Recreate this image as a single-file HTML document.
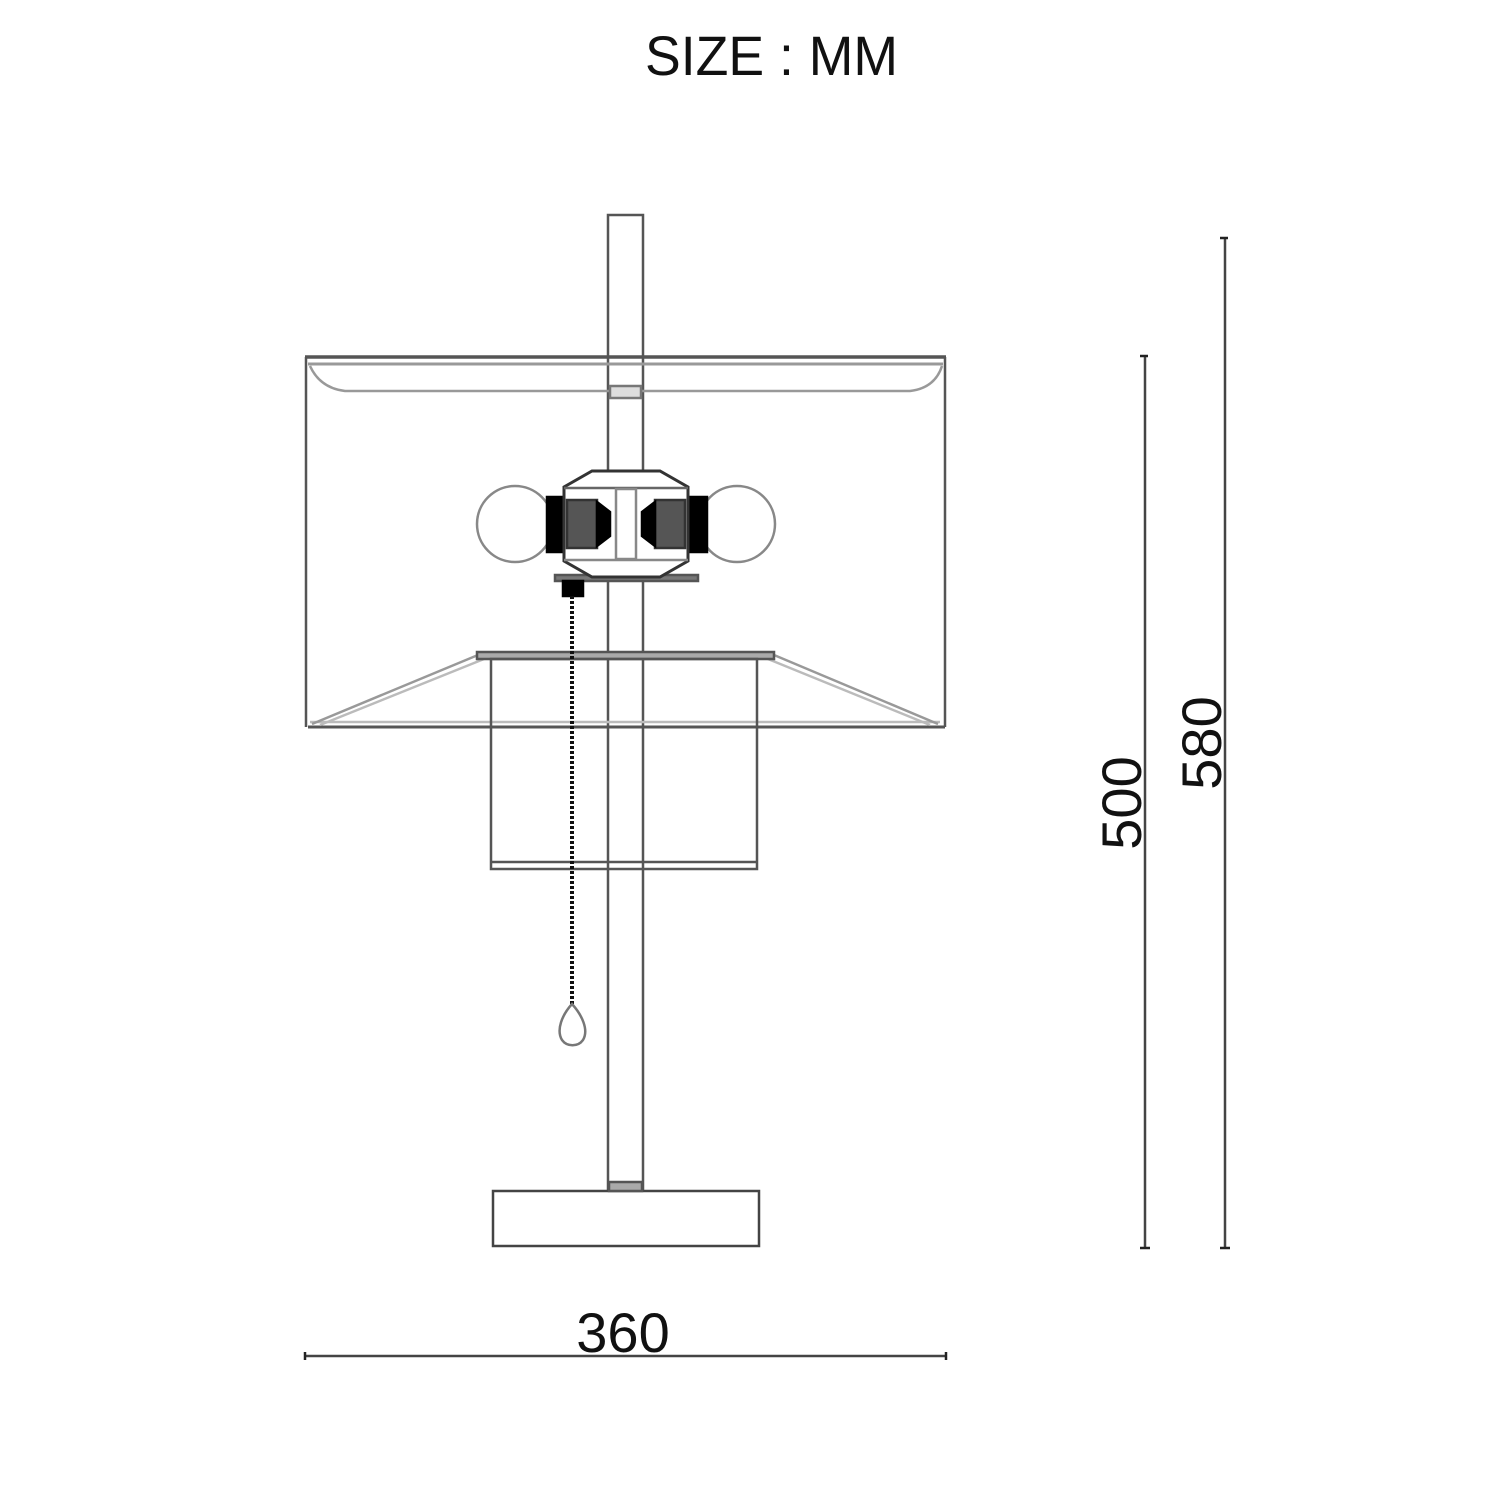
<!DOCTYPE html>
<html><head><style>body{margin:0;background:#fff}svg{display:block}</style></head>
<body>
<svg width="1500" height="1500" viewBox="0 0 1500 1500" xmlns="http://www.w3.org/2000/svg" font-family="Liberation Sans, sans-serif">
<text x="645" y="75" font-size="56" fill="#111" textLength="253" lengthAdjust="spacingAndGlyphs">SIZE : MM</text>
<g fill="none" stroke="#555" stroke-width="2.5">
<rect x="608" y="215" width="35" height="977" fill="#fff"/>
<line x1="306" y1="357" x2="306" y2="727"/>
<line x1="945" y1="357" x2="945" y2="727"/>
<line x1="305" y1="357" x2="946" y2="357" stroke-width="3.5"/>
<line x1="308" y1="364" x2="943" y2="364" stroke="#999" stroke-width="3"/>
<path d="M310 366 Q320 388 345 391 L910 391 Q935 388 942 366" stroke="#999"/>
<rect x="610" y="386" width="31" height="12" fill="#ddd" stroke="#777"/>
<line x1="308" y1="727" x2="945" y2="727" stroke-width="3"/>
<line x1="310" y1="722" x2="940" y2="722" stroke="#bbb"/>
<line x1="312" y1="724" x2="478" y2="655" stroke="#999"/>
<line x1="320" y1="725" x2="484" y2="659" stroke="#bbb"/>
<line x1="938" y1="724" x2="774" y2="655" stroke="#999"/>
<line x1="930" y1="725" x2="768" y2="659" stroke="#bbb"/>
<rect x="477" y="652" width="297" height="7" fill="#aaa" stroke="#555"/>
<rect x="491" y="659" width="266" height="210"/>
<line x1="491" y1="862" x2="757" y2="862"/>
<rect x="555" y="575" width="143" height="6" fill="#777" stroke="#555"/>
<rect x="563" y="581" width="20" height="15" fill="#000" stroke="#000"/>
<line x1="572" y1="596" x2="572" y2="1005" stroke="#111" stroke-width="4" stroke-dasharray="3 2"/>
<path d="M572 1004 C562 1015 556 1030 562 1040 C567 1047 578 1047 583 1040 C589 1030 582 1015 572 1004 Z" stroke="#777"/>
<circle cx="515" cy="524" r="38" fill="#fff" stroke="#888"/>
<circle cx="737" cy="524" r="38" fill="#fff" stroke="#888"/>
<rect x="547" y="497" width="20" height="55" fill="#000" stroke="#000"/>
<rect x="687" y="497" width="20" height="55" fill="#000" stroke="#000"/>
<path d="M592 471 L660 471 L688 487 L688 561 L660 577 L592 577 L564 561 L564 487 Z" fill="#fff" stroke="#333" stroke-width="3"/>
<line x1="564" y1="488" x2="688" y2="488" stroke="#666"/>
<line x1="564" y1="560" x2="688" y2="560" stroke="#888"/>
<rect x="616" y="489" width="20" height="70" fill="#fff" stroke="#888"/>
<rect x="567" y="500" width="30" height="48" fill="#555" stroke="#333"/>
<path d="M597 502 L610 512 L610 536 L597 546 Z" fill="#000" stroke="#000"/>
<rect x="655" y="500" width="30" height="48" fill="#555" stroke="#333"/>
<path d="M655 502 L642 512 L642 536 L655 546 Z" fill="#000" stroke="#000"/>
<rect x="493" y="1191" width="266" height="55" fill="#fff" stroke="#444"/>
<rect x="609" y="1182" width="33" height="9" fill="#aaa" stroke="#555"/>
<line x1="1225" y1="238" x2="1225" y2="1248" stroke="#444"/>
<line x1="1145" y1="356" x2="1145" y2="1248" stroke="#444"/>
<line x1="1220" y1="238" x2="1228" y2="238" stroke="#222"/>
<line x1="1140" y1="356" x2="1148" y2="356" stroke="#222"/>
<line x1="1140" y1="1248" x2="1150" y2="1248" stroke="#222"/>
<line x1="1220" y1="1248" x2="1230" y2="1248" stroke="#222"/>
<line x1="305" y1="1356" x2="946" y2="1356" stroke="#444"/>
<line x1="305" y1="1352" x2="305" y2="1360" stroke="#222"/>
<line x1="946" y1="1352" x2="946" y2="1360" stroke="#222"/>
</g>
<text x="623" y="1352" font-size="56" fill="#111" text-anchor="middle">360</text>
<text transform="translate(1141,803) rotate(-90)" font-size="56" fill="#111" text-anchor="middle">500</text>
<text transform="translate(1221,743) rotate(-90)" font-size="56" fill="#111" text-anchor="middle">580</text>
</svg>
</body></html>
